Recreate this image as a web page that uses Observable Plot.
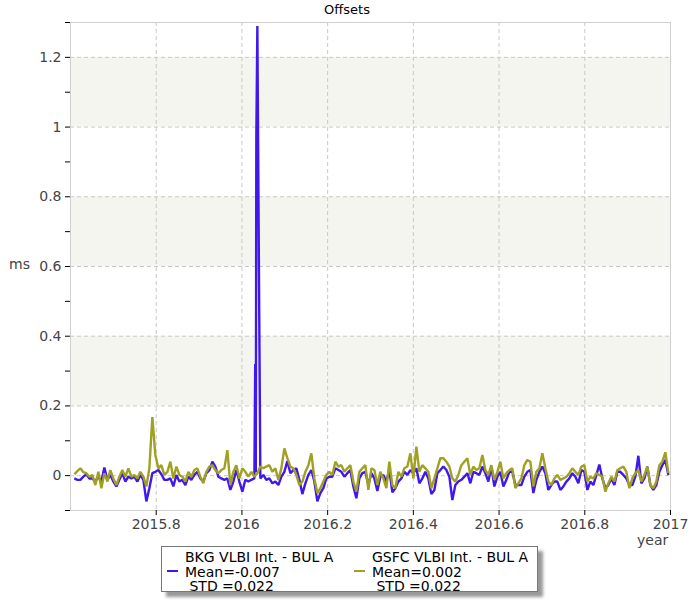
<!DOCTYPE html>
<html>
<head>
<meta charset="utf-8">
<script src="https://cdn.jsdelivr.net/npm/d3@7"></script>
<script src="https://cdn.jsdelivr.net/npm/@observablehq/plot@0.6"></script>
<style>
  body { margin: 0; background: #fff; }
  #wrap { position: relative; width: 700px; height: 600px; font-family: "DejaVu Sans", Verdana, sans-serif; }
  .lbl { position: absolute; font-size: 14px; color: #444; white-space: pre; }
  #legend { position: absolute; left: 161px; top: 546px; width: 375px; height: 44px; border: 1px solid #777; background: #fff; box-shadow: 5px 5px 3px #999; font-size: 14px; color: #000; }
  .lg { position: absolute; white-space: pre; line-height: 14px; }
  .sw { position: absolute; height: 2px; width: 11px; }
</style>
</head>
<body>
<div id="wrap">
  <div id="chart" style="position:absolute;left:0;top:0"></div>
  <div class="lbl" style="left:0;width:694px;top:2px;text-align:center;font-size:13px;color:#000">Offsets</div>
  <div class="lbl" style="left:9px;top:256px">ms</div>
  <div class="lbl" style="left:637px;top:532px">year</div>
  <div id="legend"></div>
</div>
<script>
// ---- data ----
const tStart = 2015.609;   // first sample (decimal year)
const tStep = 0.007;       // sample spacing (years)

const bkg = [
  -0.008,-0.012,-0.012,-0.003,0.004,-0.008,-0.008,-0.017,-0.003,-0.017,
  0.023,-0.012,0.002,-0.017,-0.031,-0.012,0.007,-0.017,-0.003,-0.008,
  -0.003,-0.017,0.002,-0.012,-0.074,-0.036,0.007,0.011,0.016,0.004,
  -0.012,-0.012,-0.008,-0.031,0.002,-0.017,-0.012,-0.027,-0.003,-0.012,
  0.002,0.011,-0.008,-0.017,0.007,0.016,0.040,0.026,-0.003,
  -0.008,-0.012,-0.008,-0.041,-0.017,0.016,-0.017,-0.046,-0.012,-0.017,
  -0.012,-0.008,1.29,-0.008,0.002,-0.012,-0.008,-0.022,-0.017,-0.027,
  -0.003,0.011,0.042,0.007,0.016,0.021,-0.012,-0.053,-0.022,0.002,
  0.016,-0.017,-0.074,-0.050,-0.036,-0.008,-0.003,-0.003,0.021,0.016,
  0.011,-0.003,0.007,0.016,-0.031,-0.065,-0.008,0.007,0.011,-0.027,
  0.007,-0.008,-0.044,-0.003,0.002,-0.017,0.016,-0.048,-0.036,-0.017,
  -0.008,0.011,0.002,0.016,0.007,0.021,-0.022,-0.008,0.011,-0.008,
  -0.053,-0.041,0.007,0.016,0.026,0.016,-0.003,-0.070,-0.027,-0.017,
  -0.012,-0.003,0.007,-0.022,0.011,0.007,0.002,0.026,0.007,-0.017,
  0.026,-0.031,-0.003,0.011,-0.031,-0.012,0.011,0.011,-0.027,-0.027,
  -0.027,-0.003,0.011,0.016,-0.050,-0.012,0.011,0.026,0.007,-0.041,
  -0.027,-0.017,-0.017,-0.041,-0.031,-0.017,-0.008,0.007,-0.003,-0.022,
  0.016,0.011,-0.041,-0.017,-0.027,0.002,0.032,-0.008,-0.036,-0.027,
  -0.008,-0.027,0.011,0.011,0.002,-0.008,-0.027,-0.027,-0.003,0.057,
  -0.022,-0.008,0.026,-0.027,-0.041,-0.027,0.011,0.030,0.045,0.002
];
// extra BKG samples inside the 2016.03 outlier burst
const bkgBurstT = [2016.031, 2016.0324, 2016.0336, 2016.0394];
const bkgBurstV = [0.32, 0.01, 0.97, 0.64];

const gsfc = [
  0.004,0.013,0.021,0.010,0.007,-0.003,0.002,-0.027,0.011,-0.036,
  0.007,-0.017,0.016,-0.008,-0.027,-0.003,0.016,-0.003,0.021,-0.003,
  0.002,-0.008,0.011,-0.003,-0.031,0.021,0.168,0.059,0.021,0.030,
  0.002,0.011,0.040,-0.008,0.026,0.002,-0.003,-0.017,0.011,-0.003,
  0.016,0.021,-0.003,-0.022,0.011,0.026,0.030,0.016,0.007,
  0.016,0.021,0.073,-0.027,0.011,0.030,-0.008,0.021,0.011,-0.003,
  0.011,-0.003,0.007,0.026,0.021,0.026,0.030,0.011,0.021,-0.012,
  0.021,0.078,0.050,0.026,0.021,0.002,-0.027,-0.017,0.011,0.030,
  0.064,-0.008,-0.050,-0.036,-0.017,0.002,0.011,0.002,0.040,0.026,
  0.030,0.011,0.021,0.030,-0.017,-0.046,0.011,0.021,0.030,-0.041,
  0.021,0.016,-0.027,0.011,-0.008,-0.036,0.040,-0.027,-0.036,0.011,
  -0.003,0.021,0.026,0.064,-0.008,0.083,0.011,0.030,0.021,0.011,
  -0.036,-0.008,0.021,0.050,0.050,0.040,0.026,-0.008,-0.017,0.002,
  0.030,0.040,0.050,0.002,0.026,0.016,0.021,0.059,0.016,0.002,
  0.030,-0.012,0.011,0.040,-0.008,0.007,0.016,0.021,-0.036,-0.022,
  -0.008,0.030,0.045,0.040,-0.031,0.011,0.021,0.064,0.021,-0.017,
  -0.027,-0.008,0.002,-0.012,-0.008,-0.003,0.007,0.021,0.011,0.002,
  0.026,0.030,-0.017,-0.003,-0.008,0.007,0.002,-0.003,-0.046,-0.022,
  -0.003,-0.017,0.016,0.021,0.026,0.011,-0.036,-0.008,0.007,0.016,
  -0.017,0.002,0.026,-0.027,-0.036,-0.017,0.030,0.040,0.067,0.007
];

const seriesNames = ["BKG VLBI Int. - BUL A", "GSFC VLBI Int. - BUL A"];
const seriesMean = ["-0.007", "0.002"];
const seriesStd = ["0.022", "0.022"];
const seriesColors = ["#4018ee", "#a0a022"];

const yMajor = [0, 0.2, 0.4, 0.6, 0.8, 1, 1.2];
const yMinor = [-0.1, 0.1, 0.3, 0.5, 0.7, 0.9, 1.1, 1.3];
const xTicks = [2015.8, 2016, 2016.2, 2016.4, 2016.6, 2016.8, 2017];
const bandLo = [0.2, 0.6, 1.0];
const bandHi = [0.4, 0.8, 1.2];

// ---- build tables ----
const bkgData = bkg.map((v, i) => ({t: tStart + i * tStep, v}))
  .concat(bkgBurstT.map((t, i) => ({t, v: bkgBurstV[i]})))
  .sort((a, b) => a.t - b.t);
const gsfcData = gsfc.map((v, i) => ({t: tStart + i * tStep, v}));
const bands = bandLo.map((lo, i) => ({lo, hi: bandHi[i]}));

const chart = Plot.plot({
  width: 700,
  height: 545,
  marginTop: 22,
  marginBottom: 35,
  marginLeft: 70,
  marginRight: 30,
  style: {fontFamily: "'DejaVu Sans', Verdana, sans-serif", fontSize: "14px", color: "#444", background: "transparent"},
  x: {domain: [2015.6, 2017]},
  y: {domain: [-0.1, 1.3]},
  marks: [
    Plot.rect(bands, {x1: () => 2015.6, x2: () => 2017, y1: "lo", y2: "hi", fill: "#f5f5f0"}),
    Plot.gridY(yMajor, {stroke: "#c8c8c8", strokeOpacity: 1, strokeDasharray: "4,3"}),
    Plot.gridX(xTicks.slice(0, -1), {stroke: "#c8c8c8", strokeOpacity: 1, strokeDasharray: "4,3"}),
    Plot.frame({stroke: "#d0d0d0"}),
    Plot.axisY(yMajor, {tickSize: 5, label: null, stroke: "#000", fill: "#444", tickFormat: d3.format("~g")}),
    Plot.axisY(yMinor, {tickSize: 5, label: null, stroke: "#000", tickFormat: () => ""}),
    Plot.axisX(xTicks, {tickSize: 5, label: null, stroke: "#000", fill: "#444", tickFormat: d3.format("~g")}),
    Plot.line(bkgData, {x: "t", y: "v", stroke: seriesColors[0], strokeWidth: 2.4, strokeLinejoin: "miter", strokeLinecap: "butt"}),
    Plot.line(gsfcData, {x: "t", y: "v", stroke: seriesColors[1], strokeWidth: 2.4, strokeLinejoin: "miter", strokeLinecap: "butt"})
  ]
});
document.getElementById("chart").appendChild(chart);

// ---- legend ----
const legend = document.getElementById("legend");
const colX = [23, 210];
seriesNames.forEach((name, i) => {
  const x = colX[i];
  const sw = document.createElement("div");
  sw.className = "sw";
  sw.style.left = (x - 18) + "px";
  sw.style.top = "23px";
  sw.style.background = seriesColors[i];
  legend.appendChild(sw);
  const lines = [name, "Mean=" + seriesMean[i], " STD =" + seriesStd[i]];
  lines.forEach((s, k) => {
    const d = document.createElement("div");
    d.className = "lg";
    d.style.left = x + "px";
    d.style.top = (3 + k * 14.5) + "px";
    d.textContent = s;
    legend.appendChild(d);
  });
});
</script>
</body>
</html>
